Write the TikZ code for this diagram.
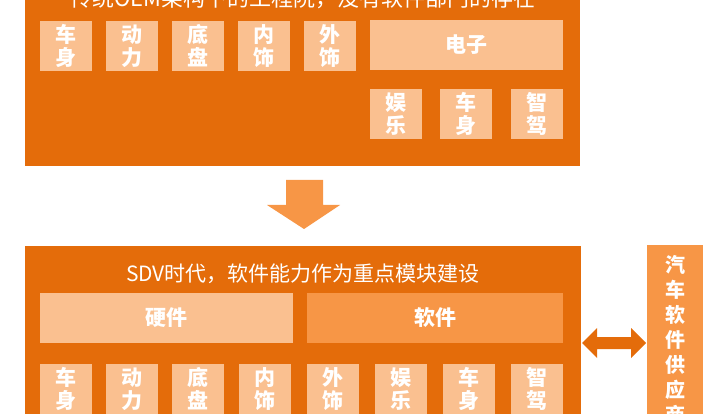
\documentclass[tikz,border=0pt]{standalone}
\usepackage{fontspec}
\setmainfont{Noto Sans CJK SC}
\definecolor{mainor}{HTML}{E46C0A}
\definecolor{lightor}{HTML}{FAC090}
\definecolor{midor}{HTML}{F79646}
\tikzset{
  bigbox/.style={fill=mainor,draw=none},
  cell/.style={fill=lightor,draw=none,text=white,inner sep=0pt,align=center,
    minimum width=52pt,minimum height=50pt,font=\bfseries\fontsize{21}{23}\selectfont},
  wide/.style={fill=lightor,draw=none,text=white,inner sep=0pt,
    minimum height=50pt,font=\bfseries\fontsize{21}{23}\selectfont},
  title/.style={text=white,inner sep=0pt,font=\fontsize{21}{25}\selectfont},
  vchar/.style={text=white,inner sep=0pt,font=\bfseries\fontsize{20}{24}\selectfont}
}
\begin{document}
\begin{tikzpicture}[x=1pt,y=-1pt]
\useasboundingbox (0,0) rectangle (720,414);
\clip (0,0) rectangle (720,414);
% top box
\fill[bigbox] (25,-20) rectangle (580,166);
\node[title,font=\fontsize{22}{26}\selectfont] (t1) at (303,-2) {传统OEM架构下的工程院，没有软件部门的存在};
\node[cell] (a1) at (66,46) {车\\身};
\node[cell] (a2) at (132,46) {动\\力};
\node[cell] (a3) at (198,46) {底\\盘};
\node[cell] (a4) at (264,46) {内\\饰};
\node[cell] (a5) at (330,46) {外\\饰};
\node[wide,minimum width=193pt] (a6) at (466.5,45) {电子};
\node[cell] (a7) at (396,114) {娱\\乐};
\node[cell] (a8) at (465.5,114) {车\\身};
\node[cell] (a9) at (536.5,114) {智\\驾};
% down arrow
\fill[midor] (286,180) -- (323,180) -- (323,205) -- (340,205) -- (304,229) -- (267,205) -- (286,205) -- cycle;
% bottom box
\fill[bigbox] (25,246) rectangle (581,440);
\node[title] (t2) at (303,274) {SDV时代，软件能力作为重点模块建设};
\node[wide,minimum width=253pt] (hw) at (166.5,318) {硬件};
\node[wide,fill=midor,minimum width=256pt] (sw) at (435,318) {软件};
\node[cell] (b1) at (66,389) {车\\身};
\node[cell] (b2) at (132,389) {动\\力};
\node[cell] (b3) at (198,389) {底\\盘};
\node[cell] (b4) at (265,389) {内\\饰};
\node[cell] (b5) at (333,389) {外\\饰};
\node[cell] (b6) at (401,389) {娱\\乐};
\node[cell] (b7) at (469,389) {车\\身};
\node[cell] (b8) at (537,389) {智\\驾};
% double arrow
\fill[mainor] (582,343) -- (597,328) -- (597,337) -- (631,337) -- (631,328) -- (646,343) -- (631,358) -- (631,349) -- (597,349) -- (597,358) -- cycle;
% side box
\fill[midor] (647,245) rectangle (703,440);
\foreach \c [count=\i from 0] in {汽,车,软,件,供,应,商} {
  \node[vchar] (s\i) at (675,265+25*\i) {\c};
}
\end{tikzpicture}
\end{document}
